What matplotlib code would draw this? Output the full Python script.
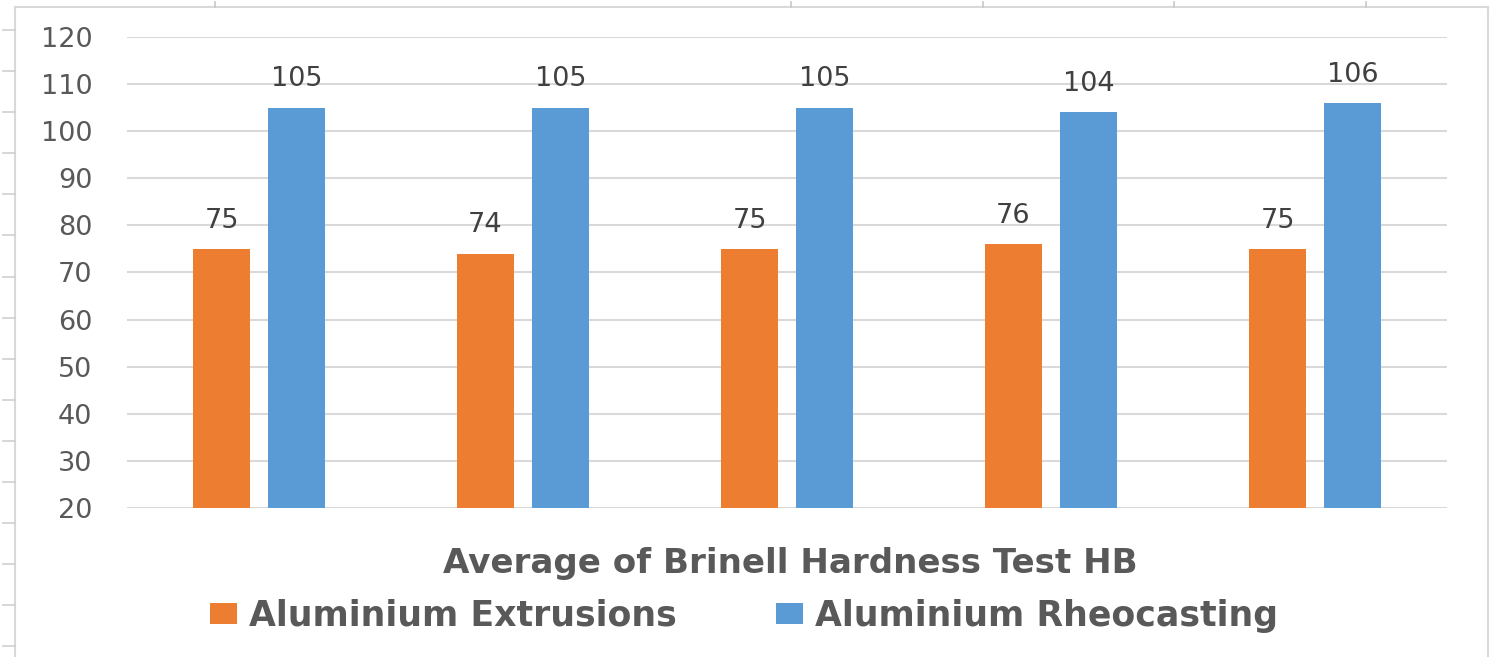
import matplotlib
matplotlib.use("Agg")
import matplotlib.pyplot as plt
from matplotlib.lines import Line2D
import numpy as np

plt.rcParams["font.family"] = ["DejaVu Sans"]

# Data
categories = ["1", "2", "3", "4", "5"]
extrusions = [75, 74, 75, 76, 75]
rheocasting = [105, 105, 105, 104, 106]
series_names = ["Aluminium Extrusions", "Aluminium Rheocasting"]
y_ticks = [20, 30, 40, 50, 60, 70, 80, 90, 100, 110, 120]
axis_title = "Average of Brinell Hardness Test HB"

ORANGE = "#ED7D31"
BLUE = "#5B9BD5"
TEXT = "#595959"
LABEL = "#404040"
GRID = "#D9D9D9"

W, H = 1490, 657
fig = plt.figure(figsize=(W / 100, H / 100), dpi=100)
fig.patch.set_facecolor("white")

def fx(px):
    return px / W

def fy(py):
    return 1 - py / H

# Worksheet frame around the chart object
fig.add_artist(Line2D([fx(15), fx(1488)], [fy(7), fy(7)], color=GRID, lw=1.5))
fig.add_artist(Line2D([fx(15), fx(15)], [fy(7), fy(657)], color=GRID, lw=1.5))
fig.add_artist(Line2D([fx(1488), fx(1488)], [fy(7), fy(657)], color=GRID, lw=1.5))
for cx in [215, 791, 983, 1174, 1366]:
    fig.add_artist(Line2D([fx(cx), fx(cx)], [fy(2), fy(7)], color="#C8C8C8", lw=1.2))
for ry in np.arange(30, 657, 41.1):
    fig.add_artist(Line2D([fx(3), fx(15)], [fy(ry), fy(ry)], color="#D0D0D0", lw=1.2))

ax = fig.add_axes([fx(127), fy(508), fx(1447) - fx(127), fy(37) - fy(508)])
x = np.arange(len(categories))
bw = 0.216
off = 0.142
b1 = ax.bar(x - off, [v - 20 for v in extrusions], bw, bottom=20, color=ORANGE, zorder=3)
b2 = ax.bar(x + off, [v - 20 for v in rheocasting], bw, bottom=20, color=BLUE, zorder=3)

for xs, vals in [(x - off, extrusions), (x + off, rheocasting)]:
    for xi, v in zip(xs, vals):
        ax.annotate(str(v), (xi, v), xytext=(0, 11), textcoords="offset points",
                    ha="center", va="bottom", fontsize=19.5, color=LABEL)

ax.set_xlim(-0.5, len(categories) - 0.5)
ax.set_ylim(20, 120)
ax.set_yticks(y_ticks)
ax.set_yticklabels([str(t) for t in y_ticks], fontsize=19.5, color=TEXT)
ax.tick_params(axis="y", length=0, pad=25)
ax.set_xticks([])
ax.yaxis.grid(True, color=GRID, lw=1.5, zorder=0)
for s in ax.spines.values():
    s.set_visible(False)

fig.text(fx(790), fy(563), axis_title, ha="center", va="center",
         fontsize=24.6, fontweight="bold", color=TEXT)

leg = fig.legend([b1, b2], series_names, loc="center", bbox_to_anchor=(fx(744), fy(616)),
                 ncol=2, frameon=False, handlelength=0.78, handleheight=0.55,
                 handletextpad=0.35, columnspacing=2.85,
                 prop={"size": 25, "weight": "bold"})
for t in leg.get_texts():
    t.set_color(TEXT)

fig.savefig("out.png", dpi=100, facecolor="white")
